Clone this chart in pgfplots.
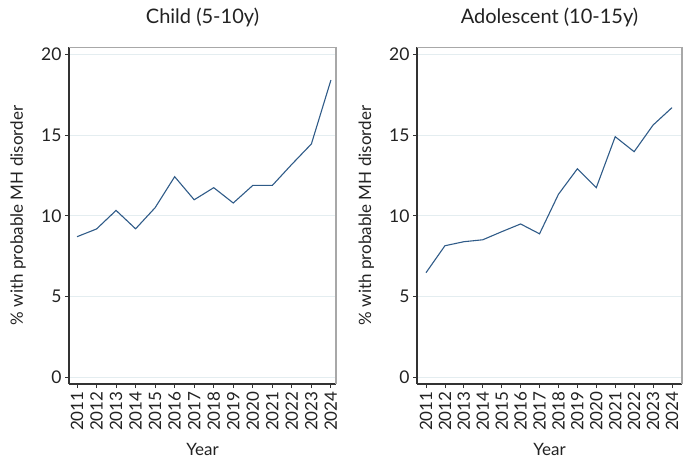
\documentclass[border=0pt]{standalone}
\usepackage{fontspec}
\setmainfont{Lato}
\usepackage{pgfplots}
\pgfplotsset{compat=1.18}

\definecolor{linec}{HTML}{2F5B88}
\definecolor{gridc}{HTML}{E4EDF0}
\definecolor{txtc}{HTML}{222222}
\definecolor{axc}{HTML}{333333}
\definecolor{framec}{HTML}{A8A8A8}

% prevalence of probable mental health disorder, by year
\pgfplotstableread{
year child
2011 8.70
2012 9.18
2013 10.33
2014 9.19
2015 10.50
2016 12.42
2017 10.99
2018 11.74
2019 10.79
2020 11.88
2021 11.88
2022 13.19
2023 14.45
2024 18.41
}\childdata

\pgfplotstableread{
year adol
2011 6.47
2012 8.14
2013 8.39
2014 8.51
2015 9.01
2016 9.49
2017 8.88
2018 11.33
2019 12.91
2020 11.74
2021 14.90
2022 13.97
2023 15.62
2024 16.70
}\adoldata

\pgfplotsset{
  panel/.style={
    scale only axis, width=267pt, height=337pt,
    xmin=2010.59, xmax=2024.26, ymin=-0.43, ymax=20.46,
    axis x line*=bottom, axis y line*=left,
    axis line style={-, line width=1.1pt, color=axc},
    xtick={2011,...,2024}, ytick={0,5,10,15,20},
    tick align=outside, major tick length=4pt,
    tick style={axc, line width=0.8pt},
    ymajorgrids, grid style={gridc, line width=0.9pt},
    /pgf/number format/assume math mode=true,
    /pgf/number format/1000 sep={},
    xticklabel style={rotate=90, anchor=east, text=txtc,
      font=\fontsize{17}{17}\selectfont},
    yticklabel style={text=txtc, font=\fontsize{17.5}{17.5}\selectfont},
    title style={at={(axis description cs:0.5,1.0534)}, anchor=base,
      text=txtc, font=\fontsize{20}{20}\selectfont},
    xlabel style={at={(axis description cs:0.5,-0.2136)}, anchor=base,
      text=txtc, font=\fontsize{17}{17}\selectfont},
    ylabel style={at={(axis description cs:-0.191,0.5)}, anchor=center,
      text=txtc, font=\fontsize{17}{17}\selectfont},
    xlabel={Year}, ylabel={\% with probable MH disorder},
    clip=false,
    after end axis/.code={
      \draw[framec, line width=0.8pt] (rel axis cs:0,1) -- (rel axis cs:1,1);
      \draw[framec, line width=1.6pt] (rel axis cs:1,1) -- (rel axis cs:1,0);
    },
  },
  series/.style={color=linec, line width=1.1pt, no marks},
}

\begin{document}
\begin{tikzpicture}
\path[use as bounding box] (0,0) rectangle (683pt,461pt);

\begin{axis}[panel, at={(69pt,77pt)}, anchor=south west,
  title={Child (5-10y)}]
  \addplot[series] table[x=year, y=child] {\childdata};
\end{axis}

\begin{axis}[panel, at={(417pt,77pt)}, anchor=south west,
  width=265pt, xmin=2010.524, xmax=2024.53, title={Adolescent (10-15y)}]
  \addplot[series] table[x=year, y=adol] {\adoldata};
\end{axis}
\end{tikzpicture}
\end{document}
